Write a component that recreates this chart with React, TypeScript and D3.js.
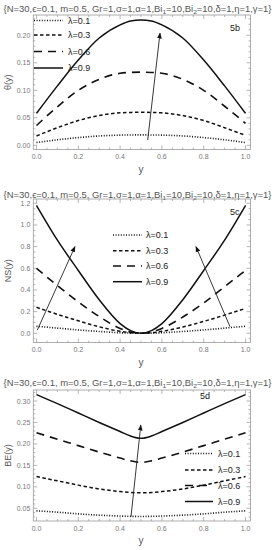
import React, { useEffect, useRef } from "react"
import * as d3 from "d3"

// grid of y values along the channel
const yGrid = [0, 0.1, 0.2, 0.3, 0.4, 0.45, 0.5, 0.55, 0.6, 0.7, 0.8, 0.9, 1]
const lambdaLabels = ["λ=0.1", "λ=0.3", "λ=0.6", "λ=0.9"]

// 5b: theta(y)
const theta01 = [0.005, 0.010, 0.014, 0.017, 0.0185, 0.0188, 0.019, 0.0188, 0.0185, 0.017, 0.014, 0.010, 0.005]
const theta03 = [0.017, 0.032, 0.045, 0.054, 0.059, 0.0598, 0.060, 0.0598, 0.059, 0.054, 0.045, 0.032, 0.018]
const theta06 = [0.036, 0.070, 0.100, 0.120, 0.131, 0.1325, 0.133, 0.1325, 0.131, 0.120, 0.100, 0.071, 0.040]
const theta09 = [0.058, 0.108, 0.155, 0.195, 0.219, 0.226, 0.228, 0.226, 0.219, 0.195, 0.155, 0.108, 0.058]

// 5c: NS(y)
const ns01 = [0.065, 0.048, 0.031, 0.017, 0.005, 0.0015, 0, 0.0015, 0.005, 0.017, 0.031, 0.048, 0.065]
const ns03 = [0.24, 0.175, 0.115, 0.06, 0.018, 0.005, 0, 0.005, 0.018, 0.058, 0.11, 0.168, 0.23]
const ns06 = [0.60, 0.44, 0.29, 0.155, 0.045, 0.012, 0, 0.012, 0.045, 0.15, 0.28, 0.43, 0.58]
const ns09 = [1.18, 0.86, 0.58, 0.31, 0.09, 0.025, 0, 0.025, 0.09, 0.31, 0.58, 0.86, 1.18]

// 5d: BE(y)
const be01 = [0.044, 0.041, 0.037, 0.034, 0.032, 0.0313, 0.031, 0.0313, 0.032, 0.034, 0.037, 0.041, 0.044]
const be03 = [0.124, 0.114, 0.104, 0.095, 0.089, 0.0868, 0.086, 0.0868, 0.089, 0.095, 0.104, 0.114, 0.124]
const be06 = [0.226, 0.211, 0.196, 0.181, 0.167, 0.1605, 0.157, 0.1605, 0.167, 0.181, 0.196, 0.211, 0.226]
const be09 = [0.315, 0.294, 0.272, 0.250, 0.229, 0.2185, 0.213, 0.2185, 0.229, 0.250, 0.272, 0.294, 0.315]

// arrows, in data units [x1, y1, x2, y2]
const arrows5b = [[0.532, 0.0096, 0.591, 0.204]]
const arrows5c = [[0.004, 0.03, 0.184, 0.80], [0.926, 0.06, 0.763, 0.80]]
const arrows5d = [[0.452, 0.030, 0.499, 0.244]]

const dashes = ["1,1.6", "3.5,2.5", "8,6", null]
const widths = [1.6, 1.5, 1.6, 1.5]

const panels = [
  {
    series: [theta01, theta03, theta06, theta09], arrows: arrows5b, tag: "5b", ylabel: "θ(y)",
    frame: { top: 15, bottom: 149.5 }, yDomain: [0, 0.2], yRange: [145.3, 35.3],
    yMajor: 0.05, yMinor: 0.01, yFmt: ".2f", titleY: 12, tagPos: [230, 31],
    legend: { x1: 34, x2: 63, tx: 68, rows: [20.5, 35, 51.5, 68] },
  },
  {
    series: [ns01, ns03, ns06, ns09], arrows: arrows5c, tag: "5c", ylabel: "NS(y)",
    frame: { top: 199, bottom: 342.5 }, yDomain: [0, 1.2], yRange: [333.3, 203.3],
    yMajor: 0.2, yMinor: 0.05, yFmt: ".1f", titleY: 198, tagPos: [230, 215],
    legend: { x1: 113, x2: 142, tx: 146, rows: [235, 250.7, 266, 281.7] },
  },
  {
    series: [be01, be03, be06, be09], arrows: arrows5d, tag: "5d", ylabel: "BE(y)",
    frame: { top: 390, bottom: 521 }, yDomain: [0.05, 0.3], yRange: [508.3, 401],
    yMajor: 0.05, yMinor: 0.01, yFmt: ".2f", titleY: 386, tagPos: [200, 399],
    legend: { x1: 185, x2: 213, tx: 218, rows: [453.5, 470, 485.5, 501.5] },
  },
]

const App = () => {
  const ref = useRef(null)

  useEffect(() => {
    const svg = d3.select(ref.current)
    svg.selectAll("*").remove()

    const defs = svg.append("defs")
    defs.append("marker")
      .attr("id", "ah")
      .attr("viewBox", "0 0 10 10")
      .attr("refX", 9).attr("refY", 5)
      .attr("markerWidth", 6).attr("markerHeight", 6)
      .attr("markerUnits", "userSpaceOnUse")
      .attr("orient", "auto")
      .append("path").attr("d", "M0,1 L10,5 L0,9 Z").attr("fill", "#111")

    const left = 33.3, right = 250.5
    const x = d3.scaleLinear().domain([0, 1]).range([36.5, 245.5])
    const font = "'Liberation Sans', Arial, sans-serif"
    const axisGray = "#9a9a9a"
    const labelGray = "#777"

    panels.forEach(p => {
      const g = svg.append("g")
      const y = d3.scaleLinear().domain(p.yDomain).range(p.yRange)
      const top = p.frame.top, bottom = p.frame.bottom

      // title
      const title = g.append("text")
        .attr("x", 137.5).attr("y", p.titleY)
        .attr("text-anchor", "middle")
        .attr("font-family", font).attr("font-size", 8.6)
        .attr("fill", "#555")
        .attr("textLength", 268).attr("lengthAdjust", "spacingAndGlyphs")
      title.append("tspan").text("{N=30,ϵ=0.1, m=0.5, Gr=1,σ=1,α=1,Bi")
      title.append("tspan").attr("font-size", 6).attr("dy", 2).text("1")
      title.append("tspan").attr("dy", -2).text("=10,Bi")
      title.append("tspan").attr("font-size", 6).attr("dy", 2).text("2")
      title.append("tspan").attr("dy", -2).text("=10,δ=1,η=1,γ=1}")

      // frame
      g.append("rect")
        .attr("x", left).attr("y", top)
        .attr("width", right - left).attr("height", bottom - top)
        .attr("fill", "none").attr("stroke", axisGray).attr("stroke-width", 0.8)

      // x ticks (both edges)
      const xMajor = d3.range(0, 1.0001, 0.2)
      const xMinor = d3.range(0, 1.0001, 0.05).filter(v => Math.abs(v * 5 - Math.round(v * 5)) > 1e-6)
      const tickG = g.append("g").attr("stroke", axisGray).attr("stroke-width", 0.7)
      xMajor.forEach(v => {
        tickG.append("line").attr("x1", x(v)).attr("x2", x(v)).attr("y1", bottom).attr("y2", bottom - 4)
        tickG.append("line").attr("x1", x(v)).attr("x2", x(v)).attr("y1", top).attr("y2", top + 4)
      })
      xMinor.forEach(v => {
        tickG.append("line").attr("x1", x(v)).attr("x2", x(v)).attr("y1", bottom).attr("y2", bottom - 2)
        tickG.append("line").attr("x1", x(v)).attr("x2", x(v)).attr("y1", top).attr("y2", top + 2)
      })
      g.selectAll(null).data(xMajor).join("text")
        .attr("x", d => x(d)).attr("y", bottom + 9.5)
        .attr("text-anchor", "middle")
        .attr("font-family", font).attr("font-size", 7)
        .attr("fill", labelGray)
        .text(d => d3.format(".1f")(d))
      g.append("text")
        .attr("x", 141).attr("y", bottom + 23)
        .attr("text-anchor", "middle")
        .attr("font-family", font).attr("font-size", 10)
        .attr("fill", "#555")
        .text("y")

      // y ticks (both edges)
      const yLo = y.invert(bottom), yHi = y.invert(top)
      const yMajorVals = d3.range(Math.ceil(yLo / p.yMajor - 1e-6) * p.yMajor, yHi, p.yMajor).map(v => +v.toFixed(4))
      const yMinorVals = d3.range(Math.ceil(yLo / p.yMinor - 1e-6) * p.yMinor, yHi, p.yMinor).map(v => +v.toFixed(4))
      yMinorVals.forEach(v => {
        const isMajor = Math.abs(v / p.yMajor - Math.round(v / p.yMajor)) < 1e-6
        const len = isMajor ? 4 : 2
        tickG.append("line").attr("x1", left).attr("x2", left + len).attr("y1", y(v)).attr("y2", y(v))
        tickG.append("line").attr("x1", right).attr("x2", right - len).attr("y1", y(v)).attr("y2", y(v))
      })
      g.selectAll(null).data(yMajorVals).join("text")
        .attr("x", left - 3).attr("y", d => y(d) + 2.5)
        .attr("text-anchor", "end")
        .attr("font-family", font).attr("font-size", 7)
        .attr("fill", labelGray)
        .text(d => d3.format(p.yFmt)(d))

      // y axis label
      g.append("text")
        .attr("transform", `translate(11, ${(top + bottom) / 2}) rotate(-90)`)
        .attr("text-anchor", "middle")
        .attr("font-family", font).attr("font-size", 9)
        .attr("fill", "#555")
        .text(p.ylabel)

      // curves
      const line = d3.line()
        .x((d, i) => x(yGrid[i]))
        .y(d => y(d))
        .curve(d3.curveMonotoneX)
      p.series.forEach((s, i) => {
        g.append("path")
          .attr("d", line(s))
          .attr("fill", "none")
          .attr("stroke", "#111")
          .attr("stroke-width", widths[i])
          .attr("stroke-dasharray", dashes[i])
      })

      // arrows
      p.arrows.forEach(a => {
        g.append("line")
          .attr("x1", x(a[0])).attr("y1", y(a[1]))
          .attr("x2", x(a[2])).attr("y2", y(a[3]))
          .attr("stroke", "#222").attr("stroke-width", 0.9)
          .attr("marker-end", "url(#ah)")
      })

      // legend
      const lg = p.legend
      lambdaLabels.forEach((lab, i) => {
        g.append("line")
          .attr("x1", lg.x1).attr("x2", lg.x2)
          .attr("y1", lg.rows[i]).attr("y2", lg.rows[i])
          .attr("stroke", "#111")
          .attr("stroke-width", widths[i])
          .attr("stroke-dasharray", dashes[i])
        g.append("text")
          .attr("x", lg.tx).attr("y", lg.rows[i] + 3.3)
          .attr("font-family", font).attr("font-size", 9)
          .attr("fill", "#222")
          .text(lab)
      })

      // panel tag
      g.append("text")
        .attr("x", p.tagPos[0]).attr("y", p.tagPos[1])
        .attr("font-family", font).attr("font-size", 9)
        .attr("fill", "#222")
        .text(p.tag)
    })
  }, [])

  return (
    <svg
      ref={ref}
      width={275}
      height={550}
      style={{ position: "absolute", left: 0, top: 0, background: "#fff" }}
    />
  )
}

export default App
